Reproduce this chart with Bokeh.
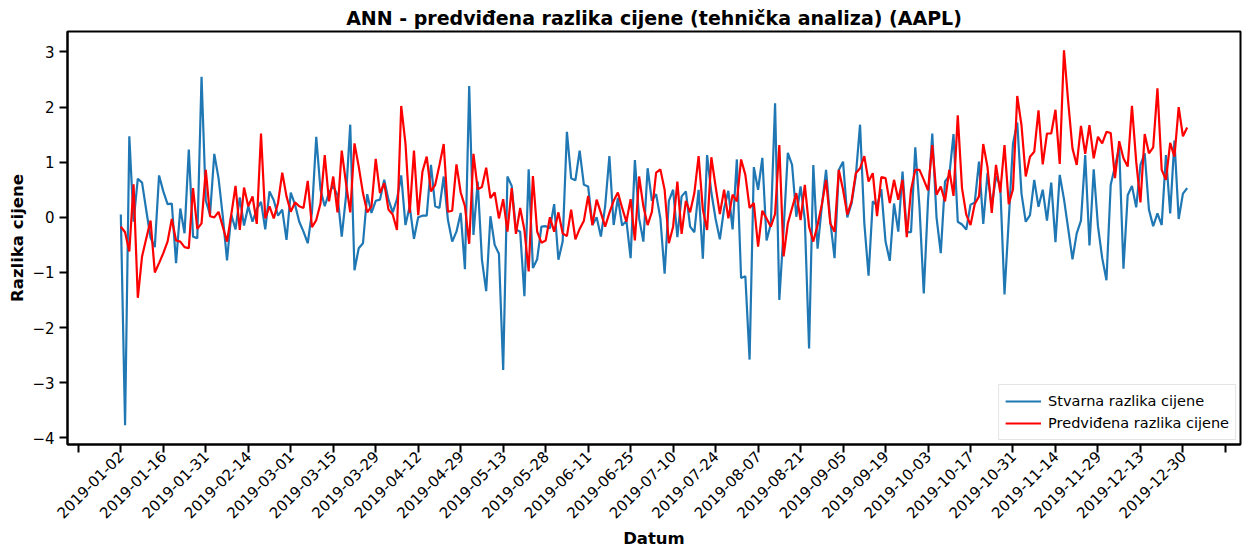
import math
from bokeh.plotting import figure
from bokeh.models import FixedTicker, Range1d, Legend, LegendItem
from bokeh.embed import file_html
from bokeh.resources import INLINE

# Tick labels (every 10th trading day of 2019)
tick_labels = ["2019-01-02", "2019-01-16", "2019-01-31", "2019-02-14", "2019-03-01",
               "2019-03-15", "2019-03-29", "2019-04-12", "2019-04-29", "2019-05-13",
               "2019-05-28", "2019-06-11", "2019-06-25", "2019-07-10", "2019-07-24",
               "2019-08-07", "2019-08-21", "2019-09-05", "2019-09-19", "2019-10-03",
               "2019-10-17", "2019-10-31", "2019-11-14", "2019-11-29", "2019-12-13",
               "2019-12-30"]

# Actual price difference (Stvarna razlika cijene), one value per trading day
actual = [
    0.05, -3.77, 1.47, -0.08, 0.70, 0.63, 0.12, -0.37, -0.54, 0.76,
    0.47, 0.24, 0.25, -0.83, 0.16, -0.29, 1.23, -0.35, -0.38, 2.55,
    0.30, 0.05, 1.15, 0.71, 0.02, -0.78, 0.05, -0.22, 0.36, -0.15,
    0.20, -0.08, 0.15, 0.28, -0.22, 0.47, 0.31, 0.03, 0.14, -0.41,
    0.45, 0.23, -0.08, -0.26, -0.47, 0.10, 1.46, 0.50, 0.20, 0.45,
    0.57, 0.40, -0.35, 0.38, 1.68, -0.96, -0.56, -0.47, 0.42, 0.08,
    0.30, 0.32, 0.68, 0.32, 0.09, 0.33, 0.76, -0.14, 0.20, -0.39,
    0.00, 0.03, 0.03, 0.95, 0.20, 0.17, 0.74, -0.05, -0.44, -0.26,
    0.08, -0.94, 2.38, -0.32, 0.65, -0.77, -1.34, 0.02, -0.50, -0.66,
    -2.77, 0.74, 0.57, -0.22, -0.26, -1.43, 0.87, -0.92, -0.76, -0.17,
    -0.16, -0.20, 0.24, -0.77, -0.44, 1.55, 0.71, 0.67, 1.21, 0.59,
    0.56, -0.14, 0.00, -0.35, 0.20, 1.11, -0.14, 0.35, -0.15, -0.06,
    -0.74, 1.04, -0.02, -0.44, 0.89, 0.30, 0.42, -0.02, -1.02, 0.30,
    0.50, -0.36, 0.38, 0.47, -0.17, -0.27, 0.50, -0.75, 1.13, 0.45,
    -0.03, -0.40, 0.16, 0.48, -0.22, 1.05, -1.10, -1.07, -2.58, 0.91,
    0.50, 1.08, -0.42, -0.12, 2.07, -1.50, -0.24, 1.17, 0.95, 0.01,
    0.56, -0.04, -2.38, 0.95, -0.57, 0.20, 0.86, -0.07, -0.74, 0.86,
    1.01, 0.00, 0.25, 0.75, 1.68, -0.10, -1.06, 0.29, 0.21, 0.51,
    -0.44, -0.79, 0.25, -0.26, 0.83, -0.27, -0.27, 1.27, 0.17, -1.38,
    0.30, 1.52, 0.00, -0.65, 0.65, 0.75, 1.51, -0.08, -0.13, -0.22,
    0.23, 0.27, 1.01, -0.12, 0.80, 0.20, 0.74, 0.58, -1.40, -0.05,
    1.34, 1.72, 0.43, -0.08, 0.04, 0.68, 0.19, 0.50, -0.06, 0.63,
    -0.45, 0.77, 0.33, -0.21, -0.76, -0.29, -0.06, 1.13, -0.51, 0.87,
    -0.16, -0.74, -1.14, 0.59, 0.92, 1.27, -0.93, 0.40, 0.57, 0.18,
    0.95, 1.16, 0.14, -0.16, 0.07, -0.14, 1.13, 0.07, 1.39, -0.03,
    0.43, 0.53,
]

# Predicted price difference (Predviđena razlika cijene)
predicted = [
    -0.17, -0.27, -0.62, 0.60, -1.46, -0.71, -0.38, -0.06, -1.00, -0.83,
    -0.65, -0.44, -0.03, -0.42, -0.44, -0.54, -0.56, 0.53, -0.21, -0.11,
    0.86, 0.02, 0.00, 0.10, -0.17, -0.44, 0.05, 0.57, -0.23, 0.54,
    0.20, 0.38, -0.12, 1.52, -0.02, 0.20, -0.02, 0.26, 0.81, 0.38,
    0.10, 0.27, 0.20, 0.17, 0.66, -0.18, -0.05, 0.25, 1.13, 0.29,
    0.74, 0.09, 1.21, 0.62, 0.09, 1.34, 0.92, 0.44, 0.09, 0.20,
    1.06, 0.44, 0.62, 0.14, 0.05, -0.23, 2.02, 1.34, 0.08, 1.21,
    0.04, 0.83, 1.10, 0.47, 0.59, 0.95, 1.33, 0.10, 0.12, 0.96,
    0.45, 0.20, -0.48, 1.15, 0.51, 0.55, 0.90, 0.35, 0.45, -0.02,
    0.33, -0.26, 0.53, -0.30, 0.17, -0.23, -0.98, 0.75, -0.26, -0.46,
    -0.42, 0.00, -0.26, 0.09, -0.29, -0.34, 0.14, -0.40, -0.21, -0.06,
    0.39, -0.14, 0.32, 0.08, -0.17, 0.08, 0.30, 0.45, 0.17, -0.08,
    0.33, -0.42, 0.74, 0.20, -0.14, 0.10, 0.81, 0.87, 0.50, -0.47,
    -0.17, 0.65, -0.30, 0.30, 0.09, 0.44, 1.11, 0.14, -0.23, 1.09,
    0.56, 0.06, 0.50, -0.02, 0.41, 0.29, 1.05, 0.77, 0.17, 0.26,
    -0.53, 0.12, -0.02, -0.17, 0.06, 1.31, -0.71, -0.11, 0.17, 0.44,
    -0.05, 0.59, -0.17, -0.44, -0.14, 0.23, 0.68, -0.11, -0.26, 0.86,
    0.50, 0.05, 0.29, 0.80, 0.89, 1.11, 0.65, 0.80, 0.02, 0.73,
    0.71, 0.26, 0.68, 0.32, 0.68, -0.36, 0.50, 0.86, 0.86, 0.68,
    0.49, 1.31, 0.41, 0.56, 0.29, 0.86, 0.39, 1.85, 0.53, 0.05,
    -0.14, 0.24, 0.38, 1.33, 0.91, 0.08, 0.95, 0.45, 1.31, 0.24,
    0.51, 2.20, 1.67, 0.74, 1.10, 1.19, 1.94, 0.96, 1.52, 1.52,
    1.95, 0.97, 3.03, 2.09, 1.25, 0.95, 1.66, 1.15, 1.67, 1.07,
    1.46, 1.34, 1.55, 1.53, 0.71, 1.38, 1.07, 0.92, 2.02, 1.01,
    0.27, 1.51, 1.16, 1.27, 2.34, 0.86, 0.68, 1.35, 1.10, 2.00,
    1.47, 1.63,
]

x = list(range(len(actual)))

FONT = "DejaVu Sans"

p = figure(width=1243, height=550, output_backend="svg", toolbar_location=None,
           x_range=Range1d(-12.55, 263.55), y_range=Range1d(-4.12, 3.37),
           min_border_left=67, min_border_right=3, min_border_top=31, min_border_bottom=105,
           title="ANN - predviđena razlika cijene (tehnička analiza) (AAPL)")

p.title.text_font = FONT
p.title.text_font_size = "19px"
p.title.text_font_style = "bold"
p.title.align = "center"
p.title.text_color = "black"
p.title.standoff = 5

p.xgrid.visible = False
p.ygrid.visible = False
p.outline_line_color = "black"
p.outline_line_width = 2
p.outline_line_alpha = 1

l1 = p.line(x, actual, line_color="#1f77b4", line_width=2.2)
l2 = p.line(x, predicted, line_color="red", line_width=2.2)

xt = list(range(-10, 261, 10))
p.xaxis.ticker = FixedTicker(ticks=xt)
overrides = {t: "" for t in xt}
for i, lbl in enumerate(tick_labels):
    overrides[i * 10] = lbl
p.xaxis.major_label_overrides = overrides
p.xaxis.major_label_orientation = math.pi / 4

yt = list(range(-4, 4))
p.yaxis.ticker = FixedTicker(ticks=yt)
p.yaxis.major_label_overrides = {t: (("\u2212" + str(-t)) if t < 0 else str(t)) for t in yt}

for ax in (p.xaxis[0], p.yaxis[0]):
    ax.axis_line_width = 2
    ax.axis_line_color = "black"
    ax.major_tick_line_width = 2
    ax.major_tick_line_color = "black"
    ax.major_tick_out = 8
    ax.major_tick_in = 0
    ax.minor_tick_line_color = None
    ax.major_label_text_font = FONT
    ax.major_label_text_font_size = "15px"
    ax.major_label_text_color = "black"
    ax.axis_label_text_font = FONT
    ax.axis_label_text_font_size = "16.5px"
    ax.axis_label_text_font_style = "bold"
    ax.axis_label_text_color = "black"

p.xaxis.axis_label = "Datum"
p.yaxis.axis_label = "Razlika cijene"
p.xaxis.major_label_standoff = 1
p.xaxis.major_label_text_line_height = 0.9
p.xaxis.axis_label_text_line_height = 0.9
p.yaxis.major_label_standoff = 5
p.xaxis.axis_label_standoff = 2
p.yaxis.axis_label_standoff = 2

legend = Legend(items=[LegendItem(label="Stvarna razlika cijene", renderers=[l1]),
                       LegendItem(label="Predviđena razlika cijene", renderers=[l2])],
                location="bottom_right")
legend.label_text_font = FONT
legend.label_text_font_size = "14.5px"
legend.label_text_color = "black"
legend.border_line_color = "#cccccc"
legend.border_line_width = 1
legend.background_fill_alpha = 0.8
legend.padding = 6
legend.spacing = 2
legend.glyph_width = 36
legend.glyph_height = 20
legend.label_height = 20
legend.label_standoff = 7
legend.margin = 4
p.add_layout(legend)

open("out.html", "w").write(file_html(p, INLINE))
